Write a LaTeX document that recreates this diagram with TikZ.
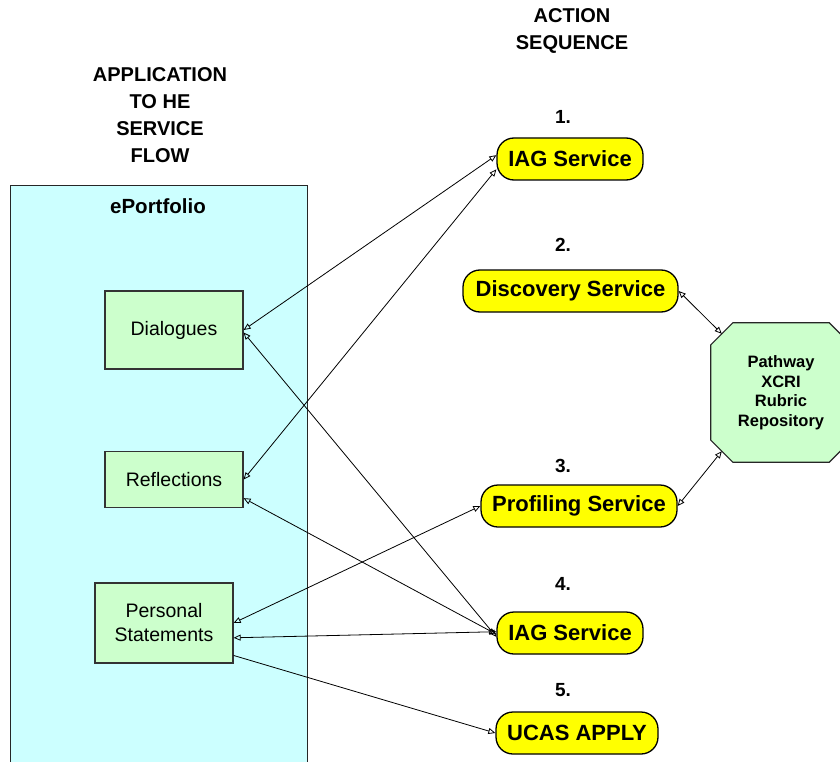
\documentclass[tikz,border=0pt]{standalone}
\usepackage{fontspec}
\setmainfont{Liberation Sans}
\usetikzlibrary{arrows.meta,calc}
\definecolor{cyanbg}{HTML}{CCFFFF}
\definecolor{greenbg}{HTML}{CCFFCC}
\definecolor{svcyellow}{HTML}{FFFF00}
\begin{document}
\begin{tikzpicture}[x=1pt,y=-1pt,
  svc/.style={rectangle, rounded corners=17pt, draw=black, line width=1.3pt, fill=svcyellow, minimum height=42pt, inner xsep=6pt, font=\fontsize{22}{24}\selectfont\bfseries},
  item/.style={rectangle, draw=black!80, line width=1.2pt, fill=greenbg, minimum width=138pt, font=\fontsize{19.5}{24}\selectfont, align=center},
  hdr/.style={font=\fontsize{20}{27}\selectfont\bfseries, align=center},
  num/.style={font=\fontsize{19}{22}\selectfont\bfseries},
  link/.style={line width=0.8pt, {Triangle[open,length=7pt,width=6pt]}-{Triangle[open,length=7pt,width=6pt]}},
  onelink/.style={line width=0.8pt, -{Triangle[open,length=7pt,width=6pt]}},
]
\useasboundingbox (0,0) rectangle (840,762);
\clip (0,0) rectangle (840,762);

% headers
\node[hdr] (acthdr) at (572,31) {ACTION\\SEQUENCE};
\node[hdr] (apphdr) at (160,115) {APPLICATION\\TO HE\\SERVICE\\FLOW};

% ePortfolio container
\node[draw=black!85, line width=1.3pt, fill=cyanbg, minimum width=297pt, minimum height=620pt, anchor=north west, inner sep=0pt] (eport) at (10,185) {};
\node[font=\fontsize{20.5}{22}\selectfont\bfseries] (eptitle) at (158,206) {ePortfolio};

% items
\node[item, minimum height=78pt] (dia) at (174,330) {Dialogues};
\node[item, minimum height=56pt] (refl) at (174,479.5) {Reflections};
\node[item, minimum height=80pt] (pers) at (164,623) {Personal\\Statements};

% services
\node[num] (n1) at (563,117) {1.};
\node[svc, minimum width=146pt] (iag1) at (570,159) {IAG Service};
\node[num] (n2) at (563,245) {2.};
\node[svc, minimum width=215pt] (disc) at (570.5,291) {Discovery Service};
\node[num] (n3) at (563,466) {3.};
\node[svc, minimum width=196pt] (prof) at (579,506) {Profiling Service};
\node[num] (n4) at (563,584) {4.};
\node[svc, minimum width=146pt] (iag4) at (570,633) {IAG Service};
\node[num] (n5) at (563,690) {5.};
\node[svc, minimum width=162pt] (ucas) at (577,733) {UCAS APPLY};

% repository octagon
\node[minimum width=140pt, minimum height=139pt, inner sep=0pt] (oct) at (781,392.5) {};
\draw[fill=greenbg, draw=black!85, line width=1.2pt]
  ([xshift=22pt]oct.north west) -- ([xshift=-22pt]oct.north east) -- ([yshift=-22pt]oct.north east)
  -- ([yshift=22pt]oct.south east) -- ([xshift=-22pt]oct.south east) -- ([xshift=22pt]oct.south west)
  -- ([yshift=22pt]oct.south west) -- ([yshift=-22pt]oct.north west) -- cycle;
\node[font=\fontsize{16.5}{19.5}\selectfont\bfseries, align=center] (octtxt) at (781,392.5) {Pathway\\XCRI\\Rubric\\Repository};
\coordinate (octUL) at ($(oct.north west)+(11pt,-11pt)$);
\coordinate (octLL) at ($(oct.south west)+(11pt,11pt)$);

% connectors
\draw[link] (dia.east) -- (iag1.177);
\draw[link] (refl.east) -- (iag1.188);
\draw[link] (dia.358) -- (iag4.183);
\draw[link] (refl.345) -- (iag4.181);
\draw[link] (pers.east) -- (prof.west);
\draw[link] (pers.348) -- (iag4.179);
\draw[onelink] (pers.335) -- (ucas.west);
\draw[link] (disc.east) -- (octUL);
\draw[link] (prof.east) -- (octLL);
\end{tikzpicture}
\end{document}
